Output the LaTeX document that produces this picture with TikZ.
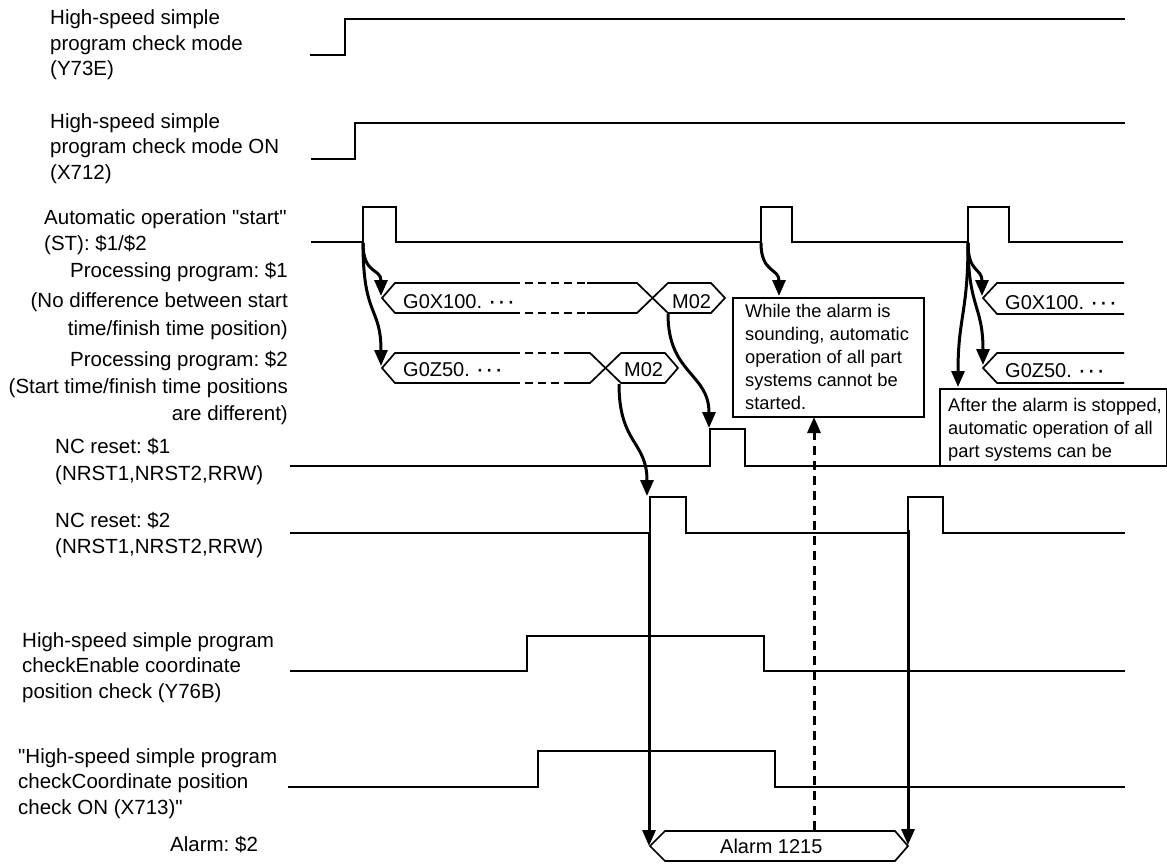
\documentclass[tikz,border=0pt]{standalone}
\usepackage{fontspec}
\setmainfont{Liberation Sans}[Ligatures=TeXOff]
\usetikzlibrary{arrows.meta}
\newcommand{\qq}{\symbol{34}}
\newcommand{\mydots}{\hspace{6pt}\raisebox{-1.5pt}{\fontsize{25}{25}\selectfont ·\hspace{1pt}·\hspace{1pt}·}}
\begin{document}
\frenchspacing
\begin{tikzpicture}[x=1pt,y=-1pt,
  sig/.style={line width=1.7pt, line join=miter},
  bus/.style={line width=1.7pt, line join=miter},
  dsh/.style={line width=1.7pt, dash pattern=on 8pt off 5pt},
  arr/.style={line width=3pt, -{Triangle[length=16pt,width=13pt]}},
  darr/.style={line width=3pt, dash pattern=on 9pt off 6pt, -{Triangle[length=16pt,width=13pt]}},
  lbl/.style={font=\fontsize{20.5}{25.5}\selectfont, inner sep=0pt, align=left, anchor=base west},
  rlbl/.style={font=\fontsize{20.5}{25.5}\selectfont, inner sep=0pt, anchor=base east},
  btxt/.style={font=\fontsize{20}{24}\selectfont, inner sep=0pt, anchor=base west},
  ntxt/.style={font=\fontsize{18.3}{23}\selectfont, inner sep=0pt, align=left, anchor=base west},
  notebox/.style={draw, line width=1.7pt, inner sep=0pt, anchor=north west}]
\useasboundingbox (0,0) rectangle (1167,864);

% ---------- labels (anchored at the baseline of their last line) ----------
\node[lbl] (l1) at (50,76) {High-speed simple\\program check mode\\(Y73E)};
\node[lbl] (l2) at (50,179) {High-speed simple\\program check mode ON\\(X712)};
\node[lbl, font=\fontsize{20.5}{26}\selectfont] (l3) at (44,250) {Automatic operation \qq start\qq\\(ST): \$1/\$2};
\node[rlbl] (l4a) at (288,277) {Processing program: \$1};
\node[rlbl] (l4b) at (288,307) {(No difference between start};
\node[rlbl] (l4c) at (288,335) {time/finish time position)};
\node[rlbl] (l5a) at (288,366) {Processing program: \$2};
\node[rlbl] (l5b) at (288,393) {(Start time/finish time positions};
\node[rlbl] (l5c) at (288,420) {are different)};
\node[lbl, font=\fontsize{20.5}{27}\selectfont] (l6) at (55,480) {NC reset: \$1\\(NRST1,NRST2,RRW)};
\node[lbl, font=\fontsize{20.5}{26}\selectfont] (l7) at (55,553) {NC reset: \$2\\(NRST1,NRST2,RRW)};
\node[lbl] (l8) at (22,698) {High-speed simple program\\checkEnable coordinate\\position check (Y76B)};
\node[lbl] (l9) at (18,814) {\qq High-speed simple program\\checkCoordinate position\\check ON (X713)\qq};
\node[lbl] (l10) at (170,851) {Alarm: \$2};

% ---------- signals ----------
\draw[sig] (310,55) -- (345,55) -- (345,19) -- (1125,19);
\draw[sig] (311,159) -- (355,159) -- (355,123) -- (1125,123);
\draw[sig] (311,242) -- (363,242) -- (363,207) -- (396,207) -- (396,242)
  -- (761,242) -- (761,207) -- (792,207) -- (792,242)
  -- (968,242) -- (968,207) -- (1009,207) -- (1009,242) -- (1123,242);
\draw[sig] (290,466) -- (710,466) -- (710,429) -- (745,429) -- (745,466) -- (1125,466);
\draw[sig] (290,533) -- (650,533) -- (650,497) -- (686,497) -- (686,533)
  -- (908,533) -- (908,497) -- (943,497) -- (943,533) -- (1125,533);
\draw[sig] (290,671) -- (527,671) -- (527,636) -- (764,636) -- (764,671) -- (1125,671);
\draw[sig] (288,787) -- (538,787) -- (538,751) -- (775,751) -- (775,787) -- (1125,787);

% ---------- bus: program $1 ----------
\draw[bus] (512,283) -- (395,283) -- (382,298) -- (395,313) -- (512,313);
\draw[dsh] (512,283) -- (587,283);
\draw[dsh] (512,313) -- (587,313);
\draw[bus] (587,283) -- (637,283) -- (668,313) -- (711,313) -- (725,298) -- (711,283)
  -- (668,283) -- (637,313) -- (587,313);
\node[btxt] (p1a) at (403,308) {G0X100.\mydots};
\node[btxt] (p1b) at (672,308) {M02};

% ---------- bus: program $2 ----------
\draw[bus] (512,353) -- (395,353) -- (382,368) -- (395,383) -- (512,383);
\draw[dsh] (512,353) -- (565,353);
\draw[dsh] (512,383) -- (565,383);
\draw[bus] (565,353) -- (590,353) -- (621,383) -- (665,383) -- (678,368) -- (665,353)
  -- (621,353) -- (590,383) -- (565,383);
\node[btxt] (p2a) at (403,376) {G0Z50.\mydots};
\node[btxt] (p2b) at (624,376) {M02};

% ---------- right buses ----------
\draw[bus] (1124,283) -- (997,283) -- (983,298) -- (997,314) -- (1124,314);
\node[btxt] (p3a) at (1005,309) {G0X100.\mydots};
\draw[bus] (1124,353) -- (997,353) -- (983,368) -- (997,383) -- (1124,383);
\node[btxt] (p4a) at (1005,377) {G0Z50.\mydots};

% ---------- alarm bus ----------
\draw[bus] (650,846) -- (665,831) -- (895,831) -- (908,846) -- (895,861) -- (665,861) -- cycle;
\node[btxt] (al) at (720,853) {Alarm 1215};

% ---------- note boxes ----------
\node[notebox, minimum width=191pt, minimum height=119pt] (b1) at (732,297) {};
\node[ntxt] (b1t) at (745,409) {While the alarm is\\sounding, automatic\\operation of all part\\systems cannot be\\started.};
\node[notebox, minimum width=227pt, minimum height=77pt] (b2) at (939,388) {};
\node[ntxt] (b2t) at (948,457) {After the alarm is stopped,\\automatic operation of all\\part systems can be};

% ---------- coordinates ----------
\coordinate (st1) at (363,243);
\coordinate (st2) at (761,243);
\coordinate (st3) at (968,243);
\coordinate (g1l) at (381,296);
\coordinate (g2l) at (381,366);
\coordinate (m1) at (668,314);
\coordinate (m2) at (619,384);
\coordinate (nc1) at (709,428);
\coordinate (nc2) at (647,496);
\coordinate (b1top) at (779,296);
\coordinate (g3l) at (982,296);
\coordinate (g4l) at (983,365);
\coordinate (b2top) at (958,387);
\coordinate (v1s) at (649,533);
\coordinate (v1e) at (649,846);
\coordinate (v2s) at (908,530);
\coordinate (v2e) at (908,845);
\coordinate (ds) at (814,830);
\coordinate (de) at (814,417);

% ---------- arrows ----------
\draw[arr] (st1) .. controls +(0,32) and +(0,-28) .. (g1l);
\draw[arr] (st1) .. controls +(0,75) and +(0,-60) .. (g2l);
\draw[arr] (m1) .. controls +(0,60) and +(0,-55) .. (nc1);
\draw[arr] (m2) .. controls +(0,60) and +(0,-55) .. (nc2);
\draw[arr] (st2) .. controls +(0,30) and +(0,-28) .. (b1top);
\draw[arr] (st3) .. controls +(0,30) and +(0,-28) .. (g3l);
\draw[arr] (st3) .. controls +(0,65) and +(0,-60) .. (g4l);
\draw[arr] (st3) .. controls +(0,70) and +(0,-70) .. (b2top);
\draw[arr] (v1s) -- (v1e);
\draw[arr] (v2s) -- (v2e);
\draw[darr] (ds) -- (de);
\end{tikzpicture}
\end{document}
